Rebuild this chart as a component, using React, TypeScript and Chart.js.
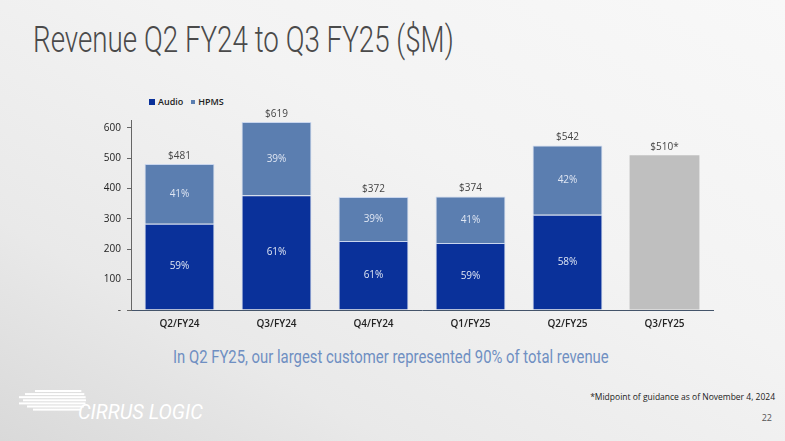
import { useEffect, useRef } from 'react';
import { Chart, registerables } from 'chart.js';
import type { ChartOptions, Plugin } from 'chart.js';

Chart.register(...registerables);

// quarters on the x axis
const quarters = ['Q2/FY24', 'Q3/FY24', 'Q4/FY24', 'Q1/FY25', 'Q2/FY25', 'Q3/FY25'];
// revenue split in $M
const audio = [284, 378, 227, 221, 314, null];
const hpms = [197, 241, 145, 153, 228, null];
const guidance = [null, null, null, null, null, 510];
// share labels printed inside the bars
const audioPct = ['59%', '61%', '61%', '59%', '58%', ''];
const hpmsPct = ['41%', '39%', '39%', '41%', '42%', ''];
// totals above the bars
const totalLabels = ['$481', '$619', '$372', '$374', '$542', '$510*'];

const COLORS = {
    audio: '#0a319a',
    hpms: '#5b7eb0',
    guidance: '#bfbfbf',
};

// draws the percentages in the segments and the totals on top
const labelPlugin: Plugin<'bar'> = {
    id: 'barLabels',
    afterDatasetsDraw(chart) {
        const ctx = chart.ctx;
        ctx.save();
        ctx.textAlign = 'center';
        ctx.font = '10px "Open Sans"';
        ctx.fillStyle = '#dfe6f3';
        ctx.textBaseline = 'middle';
        const pctSets = [audioPct, hpmsPct];
        pctSets.forEach((pcts, di) => {
            const meta = chart.getDatasetMeta(di);
            meta.data.forEach((bar: any, i) => {
                if (!pcts[i]) return;
                const mid = (bar.y + bar.base) / 2;
                ctx.fillText(pcts[i], bar.x, mid);
            });
        });
        // totals: use the top-most drawn bar of each column
        ctx.fillStyle = '#444';
        ctx.textBaseline = 'bottom';
        quarters.forEach((_, i) => {
            let top = Infinity;
            let x = 0;
            [1, 2].forEach((di) => {
                const bar: any = chart.getDatasetMeta(di).data[i];
                const val = chart.data.datasets[di].data[i];
                if (bar && val != null && bar.y < top) {
                    top = bar.y;
                    x = bar.x;
                }
            });
            ctx.fillText(totalLabels[i], x, top - 3);
        });
        ctx.restore();
    },
};

const RevenueChart: React.FC = () => {
    const chartRef = useRef<HTMLCanvasElement | null>(null);

    useEffect(() => {
        const ctx = chartRef.current?.getContext('2d');
        if (!ctx) return;

        const options: ChartOptions<'bar'> = {
            responsive: false,
            animation: false,
            layout: { padding: { left: 0, right: 72, top: 30, bottom: 0 } },
            plugins: {
                legend: { display: false },
                tooltip: { enabled: false },
            },
            scales: {
                x: {
                    stacked: true,
                    grid: { display: false, drawTicks: false },
                    border: { color: '#44546a', width: 1 },
                    ticks: {
                        color: '#222',
                        font: { family: 'Open Sans', size: 10, weight: 600 },
                        padding: 8,
                    },
                    afterFit(scale) {
                        scale.height = 30;
                    },
                },
                y: {
                    stacked: true,
                    min: 0,
                    max: 626,
                    grid: {
                        drawOnChartArea: false,
                        drawTicks: true,
                        tickLength: 4,
                        color: '#666',
                    },
                    border: { color: '#666', width: 1 },
                    ticks: {
                        stepSize: 100,
                        includeBounds: false,
                        color: '#222',
                        padding: 6,
                        font: { family: 'Open Sans', size: 10 },
                        callback: (v) => (Number(v) === 0 ? '-' : String(v)),
                    },
                    afterFit(scale) {
                        scale.width = 131;
                    },
                },
            },
        };

        const chart = new Chart(ctx, {
            type: 'bar',
            data: {
                labels: quarters,
                datasets: [
                    {
                        label: 'Audio',
                        data: audio,
                        backgroundColor: COLORS.audio,
                        borderColor: '#c9d6ee',
                        borderWidth: 1,
                        barPercentage: 0.72,
                        categoryPercentage: 1,
                    },
                    {
                        label: 'HPMS',
                        data: hpms,
                        backgroundColor: COLORS.hpms,
                        borderColor: '#c9d6ee',
                        borderWidth: 1,
                        barPercentage: 0.72,
                        categoryPercentage: 1,
                    },
                    {
                        label: 'Guidance',
                        data: guidance,
                        backgroundColor: COLORS.guidance,
                        borderWidth: 0,
                        barPercentage: 0.72,
                        categoryPercentage: 1,
                    },
                ],
            },
            options,
            plugins: [labelPlugin],
        });

        return () => {
            chart.destroy();
        };
    }, []);

    return (
        <canvas
            ref={chartRef}
            width={785}
            height={250}
            style={{ position: 'absolute', left: 0, top: 90, width: 785, height: 250 }}
        ></canvas>
    );
};

const condensed: React.CSSProperties = {
    fontFamily: 'Roboto, sans-serif',
    transformOrigin: 'left center',
    whiteSpace: 'nowrap',
    position: 'absolute',
};

// stripes of the logo mark, cut on the right by a circle
const Logo: React.FC = () => {
    const cx = 56;
    const cy = 11;
    const r = 11;
    const starts = [16, 6, 0, 4, 0, 8, 14];
    return (
        <svg width={80} height={24} style={{ position: 'absolute', left: 19, top: 389 }}>
            {starts.map((x0, i) => {
                const y = 1 + i * 3.1;
                const dy = y + 1 - cy;
                const xe = cx + Math.sqrt(Math.max(0, r * r - dy * dy));
                return <rect key={i} x={x0} y={y} width={xe - x0} height={2} fill="#ffffff" />;
            })}
        </svg>
    );
};

const App: React.FC = () => {
    useEffect(() => {
        document.body.style.margin = '0';
    }, []);

    return (
        <div
            style={{
                position: 'relative',
                width: 785,
                height: 441,
                overflow: 'hidden',
                background: 'linear-gradient(to top right, #d9d9d9 0%, #e9e9e9 25%, #f3f3f3 60%, #f8f8f8 100%)',
            }}
        >
            <div
                style={{
                    ...condensed,
                    left: 33,
                    top: 18,
                    fontSize: 37,
                    fontWeight: 300,
                    color: '#4a4a4a',
                    transform: 'scaleX(0.75)',
                }}
            >
                Revenue Q2 FY24 to Q3 FY25 ($M)
            </div>

            {/* legend */}
            <div
                style={{
                    position: 'absolute',
                    left: 149,
                    top: 95,
                    fontFamily: '"Open Sans", sans-serif',
                    fontSize: 9,
                    fontWeight: 600,
                    color: '#222',
                    display: 'flex',
                    alignItems: 'center',
                    whiteSpace: 'nowrap',
                }}
            >
                <span style={{ width: 6, height: 6, background: COLORS.audio, marginRight: 3 }}></span>
                <span style={{ marginRight: 8 }}>Audio</span>
                <span style={{ width: 4, height: 4, background: COLORS.hpms, marginRight: 3 }}></span>
                <span>HPMS</span>
            </div>

            <RevenueChart />

            <div
                style={{
                    ...condensed,
                    left: 173,
                    top: 346,
                    fontSize: 18,
                    fontWeight: 400,
                    color: '#6f8fc2',
                    transform: 'scaleX(0.825)',
                }}
            >
                In Q2 FY25, our largest customer represented 90% of total revenue
            </div>

            <Logo />
            <div
                style={{
                    ...condensed,
                    left: 78,
                    top: 400,
                    fontSize: 21,
                    fontStyle: 'italic',
                    color: '#ffffff',
                    transform: 'scaleX(0.95)',
                }}
            >
                CIRRUS LOGIC
            </div>

            <div
                style={{
                    position: 'absolute',
                    right: 10,
                    top: 391,
                    fontFamily: '"Open Sans", sans-serif',
                    fontSize: 8.5,
                    color: '#222',
                    whiteSpace: 'nowrap',
                }}
            >
                *Midpoint of guidance as of November 4, 2024
            </div>
            <div
                style={{
                    position: 'absolute',
                    right: 13,
                    top: 411,
                    fontFamily: '"Open Sans", sans-serif',
                    fontSize: 9,
                    color: '#555',
                }}
            >
                22
            </div>
        </div>
    );
};

export default App;
